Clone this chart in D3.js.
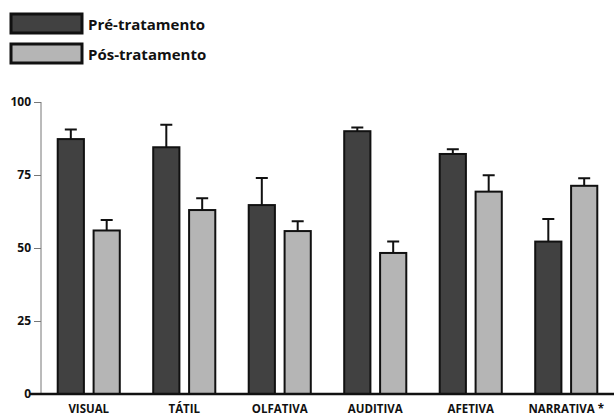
<!DOCTYPE html>
<meta charset="utf-8">
<style>
body { margin: 0; background: #fff; }
text { font-family: "Open Sans", sans-serif; font-weight: 700; fill: #111; }
.axis--y path, .axis--y line { stroke: #777; }
.axis--y text { font-size: 12px; }
.bar { stroke: #111; stroke-width: 2px; }
.err { stroke: #111; stroke-width: 2px; fill: none; }
</style>
<svg width="614" height="416"></svg>
<script src="https://cdnjs.cloudflare.com/ajax/libs/d3/7.8.5/d3.min.js"></script>
<script>

var categories = ["VISUAL", "TÁTIL", "OLFATIVA", "AUDITIVA", "AFETIVA", "NARRATIVA *"];
var series = ["Pré-tratamento", "Pós-tratamento"];
var pre = [87.3, 84.5, 64.7, 90, 82.2, 52.2];
var preErr = [90.6, 92.2, 74, 91.3, 83.8, 59.9];
var pos = [56, 63, 55.8, 48.3, 69.3, 71.3];
var posErr = [59.6, 67, 59.2, 52.2, 74.9, 73.9];
var yTicks = [0, 25, 50, 75, 100];
var colors = ["#414141", "#b5b5b5"];

var svg = d3.select("svg");

var x0 = d3.scaleBand().domain(categories).range([41, 614]).paddingInner(0.35).paddingOuter(0.175),
    x1 = d3.scaleBand().domain(series).range([0, x0.bandwidth()]).paddingInner(0.27),
    y = d3.scaleLinear().domain([0, 100]).range([394, 102]);

var data = categories.map(function(c, i) {
  return [
    {cat: c, s: series[0], v: pre[i], e: preErr[i]},
    {cat: c, s: series[1], v: pos[i], e: posErr[i]}
  ];
});

// y axis
svg.append("g")
    .attr("class", "axis axis--y")
    .attr("transform", "translate(41,0)")
    .call(d3.axisLeft(y).tickValues(yTicks).tickSize(7).tickPadding(3).tickSizeOuter(0))
    .call(function(g) { g.select(".domain").attr("d", "M0," + y(100) + "V" + y(0)); });

var grp = svg.selectAll(".grp")
    .data(data)
  .enter().append("g")
    .attr("transform", function(d) { return "translate(" + x0(d[0].cat) + ",0)"; });

// error bars
grp.selectAll(".err")
    .data(function(d) { return d; })
  .enter().append("path")
    .attr("class", "err")
    .attr("d", function(d) {
      var cx = x1(d.s) + x1.bandwidth() / 2;
      return "M" + cx + "," + y(d.v) + "V" + y(d.e) + "M" + (cx - 6) + "," + y(d.e) + "H" + (cx + 6);
    });

grp.selectAll(".bar")
    .data(function(d) { return d; })
  .enter().append("rect")
    .attr("class", "bar")
    .attr("x", function(d) { return x1(d.s); })
    .attr("y", function(d) { return y(d.v); })
    .attr("width", x1.bandwidth())
    .attr("height", function(d) { return y(0) - y(d.v); })
    .attr("fill", function(d, i) { return colors[i]; });

// baseline
svg.append("line")
    .attr("x1", 30).attr("x2", 614)
    .attr("y1", y(0)).attr("y2", y(0))
    .attr("stroke", "#111").attr("stroke-width", 2.5);

// category labels
svg.selectAll(".cat")
    .data(categories)
  .enter().append("text")
    .attr("x", function(d) { return x0(d) + x0.bandwidth() / 2; })
    .attr("y", 413)
    .attr("text-anchor", "middle")
    .style("font-size", "11.5px")
    .text(function(d) { return d; });

// legend
var leg = svg.selectAll(".leg")
    .data(series)
  .enter().append("g")
    .attr("transform", function(d, i) { return "translate(11," + (14 + i * 30) + ")"; });

leg.append("rect")
    .attr("width", 71).attr("height", 19)
    .attr("fill", function(d, i) { return colors[i]; })
    .attr("stroke", "#111").attr("stroke-width", 3);

leg.append("text")
    .attr("x", 77).attr("y", 16)
    .style("font-size", "15px")
    .text(function(d) { return d; });

</script>
